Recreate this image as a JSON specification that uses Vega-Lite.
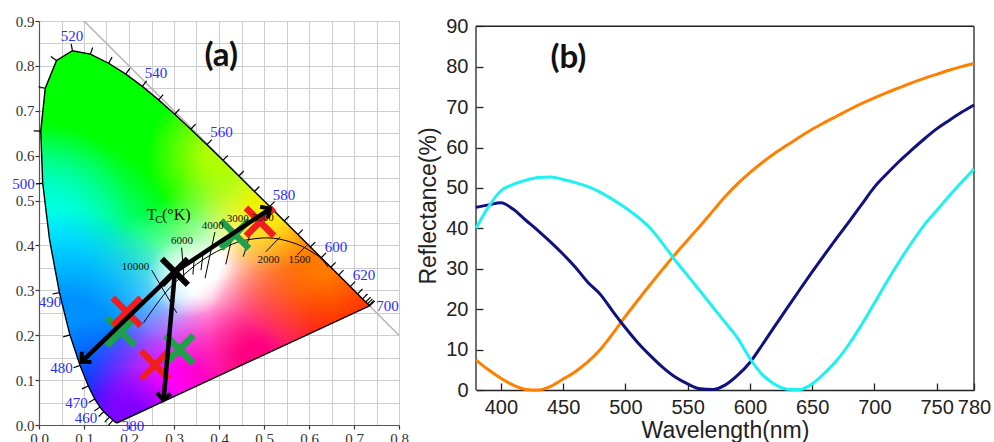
{
  "$schema": "https://vega.github.io/schema/vega-lite/v6.json",
  "padding": {"left": 12, "top": 14, "right": 0, "bottom": -4},
  "spacing": 8,
  "background": "white",
  "config": {"view": {"stroke": null}},
  "resolve": {"scale": {"color": "independent"}},
  "hconcat": [
    {
      "width": 360,
      "height": 404,
      "encoding": {
        "x": {"field": "x", "type": "quantitative", "scale": {"domain": [0, 0.8], "nice": false, "zero": false},
          "axis": {"title": null, "values": [0, 0.05, 0.1, 0.15, 0.2, 0.25, 0.3, 0.35, 0.4, 0.45, 0.5, 0.55, 0.6, 0.65, 0.7, 0.75, 0.8],
            "grid": true, "gridColor": "#cdcdcd", "gridWidth": 1, "domainColor": "#555", "domainWidth": 1.2,
            "tickColor": "#333", "tickSize": 4, "tickWidth": 1.2,
            "tickOpacity": {"condition": {"test": "round(datum.value*20)%2==0", "value": 1}, "value": 0},
            "labelExpr": "round(datum.value*20)%2==0 ? format(datum.value,'.1f') : ''",
            "labelFont": "Liberation Serif", "labelFontSize": 15, "labelColor": "#333", "labelPadding": 2, "labelFlush": false, "labelOverlap": false}},
        "y": {"field": "y", "type": "quantitative", "scale": {"domain": [0, 0.9], "nice": false, "zero": false},
          "axis": {"title": null, "values": [0, 0.05, 0.1, 0.15, 0.2, 0.25, 0.3, 0.35, 0.4, 0.45, 0.5, 0.55, 0.6, 0.65, 0.7, 0.75, 0.8, 0.85, 0.9],
            "grid": true, "gridColor": "#cdcdcd", "gridWidth": 1, "domainColor": "#555", "domainWidth": 1.2,
            "tickColor": "#333", "tickSize": 4, "tickWidth": 1.2,
            "tickOpacity": {"condition": {"test": "round(datum.value*20)%2==0", "value": 1}, "value": 0},
            "labelExpr": "round(datum.value*20)%2==0 ? format(datum.value,'.1f') : ''",
            "labelFont": "Liberation Serif", "labelFontSize": 15, "labelColor": "#333", "labelPadding": 1, "labelFlush": false, "labelOverlap": false}}
      },
      "layer": [
        {
          "data": {"values": [{"x": 0.1, "y": 0.9, "x2": 0.8, "y2": 0.2}]},
          "mark": {"type": "rule", "color": "#b4b4b4", "strokeWidth": 1.5},
          "encoding": {"x2": {"field": "x2"}, "y2": {"field": "y2"}}
        },
        {
          "data": {"values": [
            {"x": 0.0039, "y": 0.6548, "yb": 0.6548}, {"x": 0.0082, "y": 0.6960, "yb": 0.5384},
            {"x": 0.0139, "y": 0.7502, "yb": 0.4915}, {"x": 0.0235, "y": 0.7739, "yb": 0.4127},
            {"x": 0.0389, "y": 0.8120, "yb": 0.3299}, {"x": 0.0454, "y": 0.8160, "yb": 0.2950},
            {"x": 0.0687, "y": 0.8303, "yb": 0.2007}, {"x": 0.0743, "y": 0.8338, "yb": 0.1838},
            {"x": 0.0913, "y": 0.8306, "yb": 0.1327}, {"x": 0.1096, "y": 0.8271, "yb": 0.0868},
            {"x": 0.1142, "y": 0.8262, "yb": 0.0776}, {"x": 0.1241, "y": 0.8212, "yb": 0.0578},
            {"x": 0.1355, "y": 0.8155, "yb": 0.0399}, {"x": 0.1440, "y": 0.8113, "yb": 0.0297},
            {"x": 0.1547, "y": 0.8059, "yb": 0.0195}, {"x": 0.1566, "y": 0.8047, "yb": 0.0177},
            {"x": 0.1644, "y": 0.7997, "yb": 0.0109}, {"x": 0.1689, "y": 0.7969, "yb": 0.0069},
            {"x": 0.1714, "y": 0.7953, "yb": 0.0051}, {"x": 0.1741, "y": 0.7936, "yb": 0.0050},
            {"x": 0.1929, "y": 0.7816, "yb": 0.0137}, {"x": 0.2296, "y": 0.7543, "yb": 0.0308},
            {"x": 0.2658, "y": 0.7243, "yb": 0.0476}, {"x": 0.3016, "y": 0.6923, "yb": 0.0642},
            {"x": 0.3373, "y": 0.6589, "yb": 0.0808}, {"x": 0.3731, "y": 0.6245, "yb": 0.0974},
            {"x": 0.4087, "y": 0.5896, "yb": 0.1139}, {"x": 0.4441, "y": 0.5547, "yb": 0.1304},
            {"x": 0.4788, "y": 0.5202, "yb": 0.1465}, {"x": 0.5125, "y": 0.4866, "yb": 0.1621},
            {"x": 0.5448, "y": 0.4544, "yb": 0.1771}, {"x": 0.5752, "y": 0.4242, "yb": 0.1912},
            {"x": 0.6029, "y": 0.3965, "yb": 0.2041}, {"x": 0.6270, "y": 0.3725, "yb": 0.2153},
            {"x": 0.6482, "y": 0.3514, "yb": 0.2251}, {"x": 0.6658, "y": 0.3340, "yb": 0.2333},
            {"x": 0.6915, "y": 0.3083, "yb": 0.2452}, {"x": 0.7079, "y": 0.2920, "yb": 0.2528},
            {"x": 0.7190, "y": 0.2809, "yb": 0.2580}, {"x": 0.7260, "y": 0.2740, "yb": 0.2612},
            {"x": 0.7300, "y": 0.2700, "yb": 0.2631}, {"x": 0.7334, "y": 0.2666, "yb": 0.2647},
            {"x": 0.7347, "y": 0.2653, "yb": 0.2653}
          ]},
          "encoding": {"y2": {"field": "yb"}},
          "layer": [
            {"mark": {"type": "area", "fill": "#ffffff"}},
            {"mark": {"type": "area", "fill": {"gradient": "radial", "x1": 0.1745, "y1": 0.1372, "r1": 0, "x2": 0.1745, "y2": 0.1372, "r2": 0.5434, "stops": [{"offset": 0, "color": "rgba(0,255,0,1)"}, {"offset": 0.62, "color": "rgba(0,255,0,1)"}, {"offset": 1, "color": "rgba(0,255,0,0)"}]}}},
            {"mark": {"type": "area", "fill": {"gradient": "radial", "x1": 0.0536, "y1": 0.4268, "r1": 0, "x2": 0.0536, "y2": 0.4268, "r2": 0.2415, "stops": [{"offset": 0, "color": "rgba(0,255,128,1)"}, {"offset": 0.3, "color": "rgba(0,255,128,1)"}, {"offset": 1, "color": "rgba(0,255,128,0)"}]}}},
            {"mark": {"type": "area", "fill": {"gradient": "radial", "x1": 0.0657, "y1": 0.6078, "r1": 0, "x2": 0.0657, "y2": 0.6078, "r2": 0.3985, "stops": [{"offset": 0, "color": "rgba(0,255,255,1)"}, {"offset": 0.3, "color": "rgba(0,255,255,1)"}, {"offset": 1, "color": "rgba(0,255,255,0)"}]}}},
            {"mark": {"type": "area", "fill": {"gradient": "radial", "x1": 0.1261, "y1": 0.8129, "r1": 0, "x2": 0.1261, "y2": 0.8129, "r2": 0.3864, "stops": [{"offset": 0, "color": "rgba(0,144,255,1)"}, {"offset": 0.38, "color": "rgba(0,144,255,1)"}, {"offset": 1, "color": "rgba(0,144,255,0)"}]}}},
            {"mark": {"type": "area", "fill": {"gradient": "radial", "x1": 0.2349, "y1": 0.9818, "r1": 0, "x2": 0.2349, "y2": 0.9818, "r2": 0.2657, "stops": [{"offset": 0, "color": "rgba(16,32,255,1)"}, {"offset": 0.2, "color": "rgba(16,32,255,1)"}, {"offset": 1, "color": "rgba(16,32,255,0)"}]}}},
            {"mark": {"type": "area", "fill": {"gradient": "radial", "x1": 0.4404, "y1": 0.9214, "r1": 0, "x2": 0.4404, "y2": 0.9214, "r2": 0.2657, "stops": [{"offset": 0, "color": "rgba(255,0,255,1)"}, {"offset": 0.27, "color": "rgba(255,0,255,1)"}, {"offset": 1, "color": "rgba(255,0,255,0)"}]}}},
            {"mark": {"type": "area", "fill": {"gradient": "radial", "x1": 0.3074, "y1": 0.9938, "r1": 0, "x2": 0.3074, "y2": 0.9938, "r2": 0.1449, "stops": [{"offset": 0, "color": "rgba(128,0,255,1)"}, {"offset": 0.25, "color": "rgba(128,0,255,1)"}, {"offset": 1, "color": "rgba(128,0,255,0)"}]}}},
            {"mark": {"type": "area", "fill": {"gradient": "radial", "x1": 0.8997, "y1": 0.7163, "r1": 0, "x2": 0.8997, "y2": 0.7163, "r2": 0.3864, "stops": [{"offset": 0, "color": "rgba(255,0,0,1)"}, {"offset": 0.31, "color": "rgba(255,0,0,1)"}, {"offset": 1, "color": "rgba(255,0,0,0)"}]}}},
            {"mark": {"type": "area", "fill": {"gradient": "radial", "x1": 0.6338, "y1": 0.8249, "r1": 0, "x2": 0.6338, "y2": 0.8249, "r2": 0.2415, "stops": [{"offset": 0, "color": "rgba(255,0,128,1)"}, {"offset": 0.15, "color": "rgba(255,0,128,1)"}, {"offset": 1, "color": "rgba(255,0,128,0)"}]}}},
            {"mark": {"type": "area", "fill": {"gradient": "radial", "x1": 0.8151, "y1": 0.5595, "r1": 0, "x2": 0.8151, "y2": 0.5595, "r2": 0.2657, "stops": [{"offset": 0, "color": "rgba(255,120,0,1)"}, {"offset": 0.18, "color": "rgba(255,120,0,1)"}, {"offset": 1, "color": "rgba(255,120,0,0)"}]}}},
            {"mark": {"type": "area", "fill": {"gradient": "radial", "x1": 0.658, "y1": 0.4147, "r1": 0, "x2": 0.658, "y2": 0.4147, "r2": 0.1811, "stops": [{"offset": 0, "color": "rgba(255,240,0,1)"}, {"offset": 0.2, "color": "rgba(255,240,0,1)"}, {"offset": 1, "color": "rgba(255,240,0,0)"}]}}},
            {"mark": {"type": "area", "fill": {"gradient": "radial", "x1": 0.5371, "y1": 0.282, "r1": 0, "x2": 0.5371, "y2": 0.282, "r2": 0.1932, "stops": [{"offset": 0, "color": "rgba(176,255,0,1)"}, {"offset": 0.19, "color": "rgba(176,255,0,1)"}, {"offset": 1, "color": "rgba(176,255,0,0)"}]}}},
            {"mark": {"type": "area", "fill": {"gradient": "radial", "x1": 0.4525, "y1": 0.6078, "r1": 0, "x2": 0.4525, "y2": 0.6078, "r2": 0.1087, "stops": [{"offset": 0, "color": "rgba(255,255,255,0.92)"}, {"offset": 0.3, "color": "rgba(255,255,255,0.7)"}, {"offset": 1, "color": "rgba(255,255,255,0)"}]}}}
          ]
        },
        {
          "data": {"values": [
            {"x": 0.232, "y": 0.227}, {"x": 0.262, "y": 0.27}, {"x": 0.29, "y": 0.305}, {"x": 0.32, "y": 0.333},
            {"x": 0.35, "y": 0.358}, {"x": 0.38, "y": 0.378}, {"x": 0.41, "y": 0.394}, {"x": 0.45, "y": 0.41},
            {"x": 0.48, "y": 0.415}, {"x": 0.506, "y": 0.417}, {"x": 0.535, "y": 0.414}, {"x": 0.558, "y": 0.408},
            {"x": 0.585, "y": 0.398}, {"x": 0.61, "y": 0.383}, {"x": 0.628, "y": 0.37}, {"x": 0.642, "y": 0.352}
          ]},
          "mark": {"type": "line", "color": "#000000", "strokeWidth": 1, "interpolate": "monotone"},
          "encoding": {}
        },
        {
          "data": {"values": [
            {"x": 0.2504, "y": 0.345, "x2": 0.306, "y2": 0.25},
            {"x": 0.317, "y": 0.395, "x2": 0.322, "y2": 0.33},
            {"x": 0.345, "y": 0.37, "x2": 0.342, "y2": 0.335},
            {"x": 0.365, "y": 0.385, "x2": 0.36, "y2": 0.345},
            {"x": 0.391, "y": 0.43, "x2": 0.369, "y2": 0.327},
            {"x": 0.432, "y": 0.43, "x2": 0.415, "y2": 0.358},
            {"x": 0.473, "y": 0.438, "x2": 0.454, "y2": 0.375},
            {"x": 0.536, "y": 0.419, "x2": 0.504, "y2": 0.386},
            {"x": 0.595, "y": 0.4, "x2": 0.573, "y2": 0.378}
          ]},
          "mark": {"type": "rule", "color": "#000000", "strokeWidth": 1},
          "encoding": {"x2": {"field": "x2"}, "y2": {"field": "y2"}}
        },
        {
          "data": {"values": [
            {"x": 0.1644, "y": 0.0109, "a": -138.7}, {"x": 0.1566, "y": 0.0177, "a": -137.3}, {"x": 0.1440, "y": 0.0297, "a": -133.5},
            {"x": 0.1355, "y": 0.0399, "a": -125.3}, {"x": 0.1241, "y": 0.0578, "a": -118.9}, {"x": 0.1096, "y": 0.0868, "a": -113.7},
            {"x": 0.0913, "y": 0.1327, "a": -109.8}, {"x": 0.0687, "y": 0.2007, "a": -105.8}, {"x": 0.0454, "y": 0.2950, "a": -102},
            {"x": 0.0082, "y": 0.5384, "a": -94.6}, {"x": 0.0039, "y": 0.6548, "a": -88.5}, {"x": 0.0139, "y": 0.7502, "a": -77.4},
            {"x": 0.0389, "y": 0.8120, "a": -54.2}, {"x": 0.0743, "y": 0.8338, "a": -10.7}, {"x": 0.1142, "y": 0.8262, "a": 19.1},
            {"x": 0.1547, "y": 0.8059, "a": 29.5}, {"x": 0.1929, "y": 0.7816, "a": 34.6}, {"x": 0.2296, "y": 0.7543, "a": 38.2},
            {"x": 0.2658, "y": 0.7243, "a": 40.7}, {"x": 0.3016, "y": 0.6923, "a": 42.4}, {"x": 0.3373, "y": 0.6589, "a": 43.4},
            {"x": 0.3731, "y": 0.6245, "a": 44.1}, {"x": 0.4087, "y": 0.5896, "a": 44.5}, {"x": 0.4441, "y": 0.5547, "a": 44.7},
            {"x": 0.4788, "y": 0.5202, "a": 44.8}, {"x": 0.5125, "y": 0.4866, "a": 44.9}, {"x": 0.5448, "y": 0.4544, "a": 44.9},
            {"x": 0.5752, "y": 0.4242, "a": 44.9}, {"x": 0.6029, "y": 0.3965, "a": 44.9}, {"x": 0.6270, "y": 0.3725, "a": 44.9},
            {"x": 0.6482, "y": 0.3514, "a": 44.9}, {"x": 0.6658, "y": 0.3340, "a": 44.9}, {"x": 0.6915, "y": 0.3083, "a": 45},
            {"x": 0.7079, "y": 0.2920, "a": 45}, {"x": 0.7190, "y": 0.2809, "a": 45}, {"x": 0.7260, "y": 0.2740, "a": 45},
            {"x": 0.7300, "y": 0.2700, "a": 45}, {"x": 0.7334, "y": 0.2666, "a": 45}, {"x": 0.7347, "y": 0.2653, "a": 45}
          ]},
          "mark": {"type": "point", "shape": "M0,0L0,-1", "filled": false, "stroke": "#000000", "strokeWidth": 1.2, "size": 196, "opacity": 1},
          "encoding": {"angle": {"field": "a", "type": "quantitative", "scale": null}}
        },
        {
          "data": {"values": [
            {"o": 380, "x": 0.1741, "y": 0.0050}, {"o": 390, "x": 0.1738, "y": 0.0049}, {"o": 400, "x": 0.1733, "y": 0.0048},
            {"o": 410, "x": 0.1726, "y": 0.0048}, {"o": 420, "x": 0.1714, "y": 0.0051}, {"o": 430, "x": 0.1689, "y": 0.0069},
            {"o": 440, "x": 0.1644, "y": 0.0109}, {"o": 450, "x": 0.1566, "y": 0.0177}, {"o": 460, "x": 0.1440, "y": 0.0297},
            {"o": 465, "x": 0.1355, "y": 0.0399}, {"o": 470, "x": 0.1241, "y": 0.0578}, {"o": 475, "x": 0.1096, "y": 0.0868},
            {"o": 480, "x": 0.0913, "y": 0.1327}, {"o": 485, "x": 0.0687, "y": 0.2007}, {"o": 490, "x": 0.0454, "y": 0.2950},
            {"o": 495, "x": 0.0235, "y": 0.4127}, {"o": 500, "x": 0.0082, "y": 0.5384}, {"o": 505, "x": 0.0039, "y": 0.6548},
            {"o": 510, "x": 0.0139, "y": 0.7502}, {"o": 515, "x": 0.0389, "y": 0.8120}, {"o": 520, "x": 0.0743, "y": 0.8338},
            {"o": 525, "x": 0.1142, "y": 0.8262}, {"o": 530, "x": 0.1547, "y": 0.8059}, {"o": 535, "x": 0.1929, "y": 0.7816},
            {"o": 540, "x": 0.2296, "y": 0.7543}, {"o": 545, "x": 0.2658, "y": 0.7243}, {"o": 550, "x": 0.3016, "y": 0.6923},
            {"o": 555, "x": 0.3373, "y": 0.6589}, {"o": 560, "x": 0.3731, "y": 0.6245}, {"o": 565, "x": 0.4087, "y": 0.5896},
            {"o": 570, "x": 0.4441, "y": 0.5547}, {"o": 575, "x": 0.4788, "y": 0.5202}, {"o": 580, "x": 0.5125, "y": 0.4866},
            {"o": 585, "x": 0.5448, "y": 0.4544}, {"o": 590, "x": 0.5752, "y": 0.4242}, {"o": 595, "x": 0.6029, "y": 0.3965},
            {"o": 600, "x": 0.6270, "y": 0.3725}, {"o": 605, "x": 0.6482, "y": 0.3514}, {"o": 610, "x": 0.6658, "y": 0.3340},
            {"o": 620, "x": 0.6915, "y": 0.3083}, {"o": 630, "x": 0.7079, "y": 0.2920}, {"o": 640, "x": 0.7190, "y": 0.2809},
            {"o": 650, "x": 0.7260, "y": 0.2740}, {"o": 660, "x": 0.7300, "y": 0.2700}, {"o": 680, "x": 0.7334, "y": 0.2666},
            {"o": 700, "x": 0.7347, "y": 0.2653}, {"o": 1000, "x": 0.1741, "y": 0.0050}
          ]},
          "mark": {"type": "line", "color": "#000000", "strokeWidth": 1.4},
          "encoding": {"order": {"field": "o", "type": "quantitative"}}
        },
        {
          "data": {"values": [
            {"x": 0.182, "y": 0.208, "k": "green"}, {"x": 0.195, "y": 0.252, "k": "red"},
            {"x": 0.258, "y": 0.1336, "k": "red"}, {"x": 0.312, "y": 0.1685, "k": "green"},
            {"x": 0.4356, "y": 0.4245, "k": "green"}, {"x": 0.491, "y": 0.4526, "k": "red"}
          ]},
          "mark": {"type": "point", "shape": "M-1,-1L1,1M1,-1L-1,1", "filled": false, "strokeWidth": 6.5, "size": 784, "opacity": 1},
          "encoding": {"color": {"field": "k", "type": "nominal", "scale": {"domain": ["red", "green"], "range": ["#f01e1e", "#1f9e4c"]}, "legend": null}}
        },
        {
          "data": {"values": [
            {"x": 0.302, "y": 0.341, "x2": 0.097, "y2": 0.143},
            {"x": 0.302, "y": 0.341, "x2": 0.277, "y2": 0.058},
            {"x": 0.302, "y": 0.341, "x2": 0.511, "y2": 0.48}
          ]},
          "mark": {"type": "rule", "color": "#000000", "strokeWidth": 4.5},
          "encoding": {"x2": {"field": "x2"}, "y2": {"field": "y2"}}
        },
        {
          "data": {"values": [
            {"x": 0.0948, "y": 0.141, "h": 46}, {"x": 0.276, "y": 0.0557, "h": 5}, {"x": 0.513, "y": 0.482, "h": 236}
          ]},
          "mark": {"type": "point", "shape": "M-1,-1L0,0L1,-1", "filled": false, "stroke": "#000000", "strokeWidth": 4, "size": 196, "opacity": 1},
          "encoding": {"angle": {"field": "h", "type": "quantitative", "scale": null}}
        },
        {
          "data": {"values": [{"x": 0.302, "y": 0.341}]},
          "mark": {"type": "point", "shape": "M-1,-1L1,1M1,-1L-1,1", "filled": false, "stroke": "#000000", "strokeWidth": 6, "size": 676, "opacity": 1}
        },
        {
          "data": {"values": [
            {"x": 0.0733, "y": 0.866, "t": "520"}, {"x": 0.26, "y": 0.7836, "t": "540"}, {"x": 0.4056, "y": 0.6523, "t": "560"},
            {"x": 0.5444, "y": 0.512, "t": "580"}, {"x": 0.66, "y": 0.3963, "t": "600"}, {"x": 0.7222, "y": 0.3339, "t": "620"},
            {"x": 0.7744, "y": 0.2649, "t": "700"}, {"x": -0.0344, "y": 0.5365, "t": "500"}, {"x": 0.0244, "y": 0.2738, "t": "490"},
            {"x": 0.05, "y": 0.1269, "t": "480"}, {"x": 0.0833, "y": 0.049, "t": "470"}, {"x": 0.1044, "y": 0.0156, "t": "460"},
            {"x": 0.2089, "y": -0.0022, "t": "380"}
          ]},
          "mark": {"type": "text", "font": "Liberation Serif", "fontSize": 15, "color": "#2b2bff", "align": "center", "baseline": "middle"},
          "encoding": {"text": {"field": "t"}}
        },
        {
          "data": {"values": [
            {"x": 0.2144, "y": 0.351, "t": "10000"}, {"x": 0.3178, "y": 0.409, "t": "6000"}, {"x": 0.386, "y": 0.4426, "t": "4000"},
            {"x": 0.4418, "y": 0.458, "t": "3000"}, {"x": 0.497, "y": 0.462, "t": "2500"}, {"x": 0.51, "y": 0.367, "t": "2000"},
            {"x": 0.579, "y": 0.367, "t": "1500"}
          ]},
          "mark": {"type": "text", "font": "Liberation Serif", "fontSize": 11, "color": "#111111", "align": "center", "baseline": "middle"},
          "encoding": {"text": {"field": "t"}}
        },
        {
          "data": {"values": [{"x": 0.2393, "y": 0.4564, "t": "T"}, {"x": 0.2734, "y": 0.4564, "t": "(°K)"}]},
          "mark": {"type": "text", "font": "Liberation Serif", "fontSize": 16, "color": "#111111", "align": "left", "baseline": "alphabetic"},
          "encoding": {"text": {"field": "t"}}
        },
        {
          "data": {"values": [{"x": 0.2582, "y": 0.4497, "t": "C"}]},
          "mark": {"type": "text", "font": "Liberation Serif", "fontSize": 11, "color": "#111111", "align": "left", "baseline": "alphabetic"},
          "encoding": {"text": {"field": "t"}}
        },
        {
          "data": {"values": [{"x": 0.405, "y": 0.822, "t": "(a)"}]},
          "mark": {"type": "text", "font": "Lato", "fontWeight": "bold", "fontSize": 33, "color": "#111111", "align": "center", "baseline": "middle"},
          "encoding": {"text": {"field": "t"}}
        }
      ]
    },
    {
      "width": 498,
      "height": 369,
      "encoding": {
        "x": {"field": "nm", "type": "quantitative", "scale": {"domain": [380, 780], "nice": false, "zero": false},
          "axis": {"title": "Wavelength(nm)", "values": [400, 450, 500, 550, 600, 650, 700, 750, 780], "grid": false,
            "domainColor": "#222222", "domainWidth": 1.3, "tickColor": "#222222", "tickSize": -7, "tickWidth": 1.3,
            "labelFont": "Liberation Sans", "labelFontSize": 20, "labelColor": "#222222", "labelPadding": 14, "labelFlush": false, "labelOverlap": false,
            "titleFont": "Liberation Sans", "titleFontSize": 23, "titleFontWeight": "normal", "titleColor": "#222222", "titlePadding": 2}},
        "y": {"field": "R", "type": "quantitative", "scale": {"domain": [0, 91.3], "nice": false, "zero": false},
          "axis": {"title": "Reflectance(%)", "values": [0, 10, 20, 30, 40, 50, 60, 70, 80, 90], "grid": false,
            "domain": false, "tickColor": "#222222", "tickSize": -7, "tickWidth": 1.3,
            "labelFont": "Liberation Sans", "labelFontSize": 20, "labelColor": "#222222", "labelPadding": 15, "labelFlush": false, "labelOverlap": false,
            "titleFont": "Liberation Sans", "titleFontSize": 23, "titleFontWeight": "normal", "titleColor": "#222222", "titlePadding": 5}}
      },
      "layer": [
        {
          "data": {"values": [
            {"nm": 380, "R": 0, "nm2": 380, "R2": 90},
            {"nm": 780, "R": 0, "nm2": 780, "R2": 90},
            {"nm": 380, "R": 90, "nm2": 780, "R2": 90}
          ]},
          "mark": {"type": "rule", "color": "#222222", "strokeWidth": 1.3},
          "encoding": {"x2": {"field": "nm2"}, "y2": {"field": "R2"}}
        },
        {
          "data": {"values": [
            {"curve": "orange", "nm": 380, "R": 7.4}, {"curve": "orange", "nm": 390, "R": 5.0}, {"curve": "orange", "nm": 400, "R": 2.9},
            {"curve": "orange", "nm": 410, "R": 1.2}, {"curve": "orange", "nm": 420, "R": 0.15}, {"curve": "orange", "nm": 430, "R": 0.0},
            {"curve": "orange", "nm": 440, "R": 0.9}, {"curve": "orange", "nm": 450, "R": 2.7}, {"curve": "orange", "nm": 460, "R": 4.6},
            {"curve": "orange", "nm": 470, "R": 7.0}, {"curve": "orange", "nm": 480, "R": 10.1}, {"curve": "orange", "nm": 490, "R": 14.0},
            {"curve": "orange", "nm": 500, "R": 18.2}, {"curve": "orange", "nm": 510, "R": 22.2}, {"curve": "orange", "nm": 520, "R": 26.1},
            {"curve": "orange", "nm": 530, "R": 29.9}, {"curve": "orange", "nm": 540, "R": 33.6}, {"curve": "orange", "nm": 550, "R": 37.1},
            {"curve": "orange", "nm": 560, "R": 40.6}, {"curve": "orange", "nm": 570, "R": 44.2}, {"curve": "orange", "nm": 580, "R": 47.8},
            {"curve": "orange", "nm": 590, "R": 51.0}, {"curve": "orange", "nm": 600, "R": 53.8}, {"curve": "orange", "nm": 610, "R": 56.3},
            {"curve": "orange", "nm": 620, "R": 58.6}, {"curve": "orange", "nm": 630, "R": 60.6}, {"curve": "orange", "nm": 640, "R": 62.6},
            {"curve": "orange", "nm": 650, "R": 64.5}, {"curve": "orange", "nm": 660, "R": 66.2}, {"curve": "orange", "nm": 670, "R": 67.8},
            {"curve": "orange", "nm": 680, "R": 69.4}, {"curve": "orange", "nm": 690, "R": 70.9}, {"curve": "orange", "nm": 700, "R": 72.3},
            {"curve": "orange", "nm": 710, "R": 73.6}, {"curve": "orange", "nm": 720, "R": 74.8}, {"curve": "orange", "nm": 730, "R": 76.0},
            {"curve": "orange", "nm": 740, "R": 77.1}, {"curve": "orange", "nm": 750, "R": 78.1}, {"curve": "orange", "nm": 760, "R": 79.1},
            {"curve": "orange", "nm": 770, "R": 80.0}, {"curve": "orange", "nm": 780, "R": 80.8},
            {"curve": "navy", "nm": 380, "R": 45.2}, {"curve": "navy", "nm": 390, "R": 45.8}, {"curve": "navy", "nm": 400, "R": 46.3},
            {"curve": "navy", "nm": 410, "R": 44.7}, {"curve": "navy", "nm": 420, "R": 42.0}, {"curve": "navy", "nm": 430, "R": 39.4},
            {"curve": "navy", "nm": 440, "R": 36.6}, {"curve": "navy", "nm": 450, "R": 33.6}, {"curve": "navy", "nm": 460, "R": 30.3},
            {"curve": "navy", "nm": 470, "R": 26.6}, {"curve": "navy", "nm": 480, "R": 23.6}, {"curve": "navy", "nm": 490, "R": 19.4},
            {"curve": "navy", "nm": 500, "R": 15.4}, {"curve": "navy", "nm": 510, "R": 11.7}, {"curve": "navy", "nm": 520, "R": 8.5},
            {"curve": "navy", "nm": 530, "R": 5.6}, {"curve": "navy", "nm": 540, "R": 3.2}, {"curve": "navy", "nm": 550, "R": 1.5},
            {"curve": "navy", "nm": 560, "R": 0.3}, {"curve": "navy", "nm": 570, "R": 0.1}, {"curve": "navy", "nm": 580, "R": 1.2},
            {"curve": "navy", "nm": 590, "R": 3.6}, {"curve": "navy", "nm": 600, "R": 6.8}, {"curve": "navy", "nm": 610, "R": 11.2},
            {"curve": "navy", "nm": 620, "R": 15.8}, {"curve": "navy", "nm": 630, "R": 20.3}, {"curve": "navy", "nm": 640, "R": 24.8},
            {"curve": "navy", "nm": 650, "R": 29.2}, {"curve": "navy", "nm": 660, "R": 33.5}, {"curve": "navy", "nm": 670, "R": 37.7},
            {"curve": "navy", "nm": 680, "R": 41.8}, {"curve": "navy", "nm": 690, "R": 46.0}, {"curve": "navy", "nm": 700, "R": 50.2},
            {"curve": "navy", "nm": 710, "R": 53.5}, {"curve": "navy", "nm": 720, "R": 56.6}, {"curve": "navy", "nm": 730, "R": 59.4},
            {"curve": "navy", "nm": 740, "R": 62.1}, {"curve": "navy", "nm": 750, "R": 64.6}, {"curve": "navy", "nm": 760, "R": 66.7},
            {"curve": "navy", "nm": 770, "R": 68.7}, {"curve": "navy", "nm": 780, "R": 70.5},
            {"curve": "cyan", "nm": 380, "R": 40.0}, {"curve": "cyan", "nm": 390, "R": 45.3}, {"curve": "cyan", "nm": 400, "R": 49.3},
            {"curve": "cyan", "nm": 410, "R": 50.9}, {"curve": "cyan", "nm": 420, "R": 51.9}, {"curve": "cyan", "nm": 430, "R": 52.6},
            {"curve": "cyan", "nm": 440, "R": 52.7}, {"curve": "cyan", "nm": 450, "R": 52.1}, {"curve": "cyan", "nm": 460, "R": 51.3},
            {"curve": "cyan", "nm": 470, "R": 50.3}, {"curve": "cyan", "nm": 480, "R": 48.9}, {"curve": "cyan", "nm": 490, "R": 47.1},
            {"curve": "cyan", "nm": 500, "R": 45.1}, {"curve": "cyan", "nm": 510, "R": 42.8}, {"curve": "cyan", "nm": 520, "R": 40.0},
            {"curve": "cyan", "nm": 530, "R": 36.2}, {"curve": "cyan", "nm": 540, "R": 32.1}, {"curve": "cyan", "nm": 550, "R": 28.3},
            {"curve": "cyan", "nm": 560, "R": 24.5}, {"curve": "cyan", "nm": 570, "R": 20.6}, {"curve": "cyan", "nm": 580, "R": 16.8},
            {"curve": "cyan", "nm": 590, "R": 12.9}, {"curve": "cyan", "nm": 600, "R": 7.8}, {"curve": "cyan", "nm": 610, "R": 3.8},
            {"curve": "cyan", "nm": 620, "R": 1.4}, {"curve": "cyan", "nm": 630, "R": 0.2}, {"curve": "cyan", "nm": 640, "R": 0.1},
            {"curve": "cyan", "nm": 650, "R": 1.5}, {"curve": "cyan", "nm": 660, "R": 4.2}, {"curve": "cyan", "nm": 670, "R": 7.4},
            {"curve": "cyan", "nm": 680, "R": 11.5}, {"curve": "cyan", "nm": 690, "R": 16.3}, {"curve": "cyan", "nm": 700, "R": 21.5},
            {"curve": "cyan", "nm": 710, "R": 26.8}, {"curve": "cyan", "nm": 720, "R": 31.8}, {"curve": "cyan", "nm": 730, "R": 36.5},
            {"curve": "cyan", "nm": 740, "R": 40.8}, {"curve": "cyan", "nm": 750, "R": 44.4}, {"curve": "cyan", "nm": 760, "R": 48.0},
            {"curve": "cyan", "nm": 770, "R": 51.4}, {"curve": "cyan", "nm": 780, "R": 54.7}
          ]},
          "mark": {"type": "line", "strokeWidth": 3, "interpolate": "monotone"},
          "encoding": {"color": {"field": "curve", "type": "nominal", "scale": {"domain": ["orange", "navy", "cyan"], "range": ["#ff8000", "#10107e", "#1ff0f0"]}, "legend": null}}
        },
        {
          "data": {"values": [{"nm": 454.2, "R": 82.2, "t": "(b)"}]},
          "mark": {"type": "text", "font": "Lato", "fontWeight": "bold", "fontSize": 33, "color": "#111111", "align": "center", "baseline": "middle"},
          "encoding": {"text": {"field": "t"}}
        }
      ]
    }
  ]
}
